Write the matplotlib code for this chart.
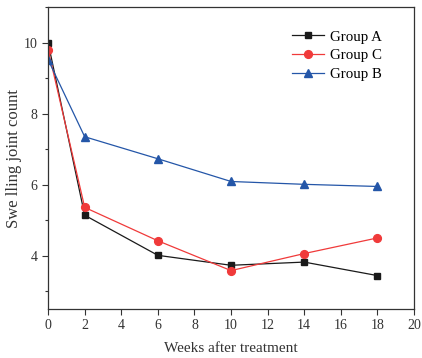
import matplotlib
matplotlib.use("Agg")
import matplotlib.pyplot as plt
from matplotlib.ticker import MultipleLocator

plt.rcParams['font.family'] = ['Liberation Serif', 'DejaVu Serif']

weeks = [0, 2, 6, 10, 14, 18]
group_a = [10.0, 5.14, 4.01, 3.73, 3.82, 3.44]
group_c = [9.8, 5.36, 4.42, 3.58, 4.06, 4.5]
group_b = [9.52, 7.35, 6.73, 6.09, 6.01, 5.95]

fig = plt.figure(figsize=(4.22, 3.58), dpi=100)
ax = fig.add_axes([0.114, 0.137, 0.867, 0.843])

ax.plot(weeks, group_a, color='#1a1a1a', marker='s', markersize=5, lw=0.9, label='Group A')
ax.plot(weeks, group_c, color='#f03a3a', marker='o', markersize=5.6, lw=0.9, label='Group C')
ax.plot(weeks, group_b, color='#2456a8', marker='^', markersize=6, lw=0.9, label='Group B')

ax.set_xlim(0, 20)
ax.set_ylim(2.5, 11)
ax.xaxis.set_major_locator(MultipleLocator(2))
ax.yaxis.set_major_locator(MultipleLocator(2))
ax.yaxis.set_minor_locator(MultipleLocator(1))
ax.tick_params(axis='both', which='major', direction='out', length=4, width=0.8, labelsize=10, colors='#333333', labelcolor='#333333')
ax.tick_params(axis='y', which='minor', direction='out', length=2.5, width=0.8, colors='#333333')
for s in ax.spines.values():
    s.set_linewidth(0.9)
    s.set_color('#333333')

ax.set_xlabel('Weeks after treatment', fontsize=11, color='#333333', labelpad=7)
ax.set_ylabel('Swe lling joint count', fontsize=12, color='#333333', labelpad=1)

ax.legend(loc='upper right', bbox_to_anchor=(0.95, 0.968), frameon=False, fontsize=10.7,
          handlelength=2.2, labelspacing=0.35, handletextpad=0.4)

fig.savefig('out.png', dpi=100)
